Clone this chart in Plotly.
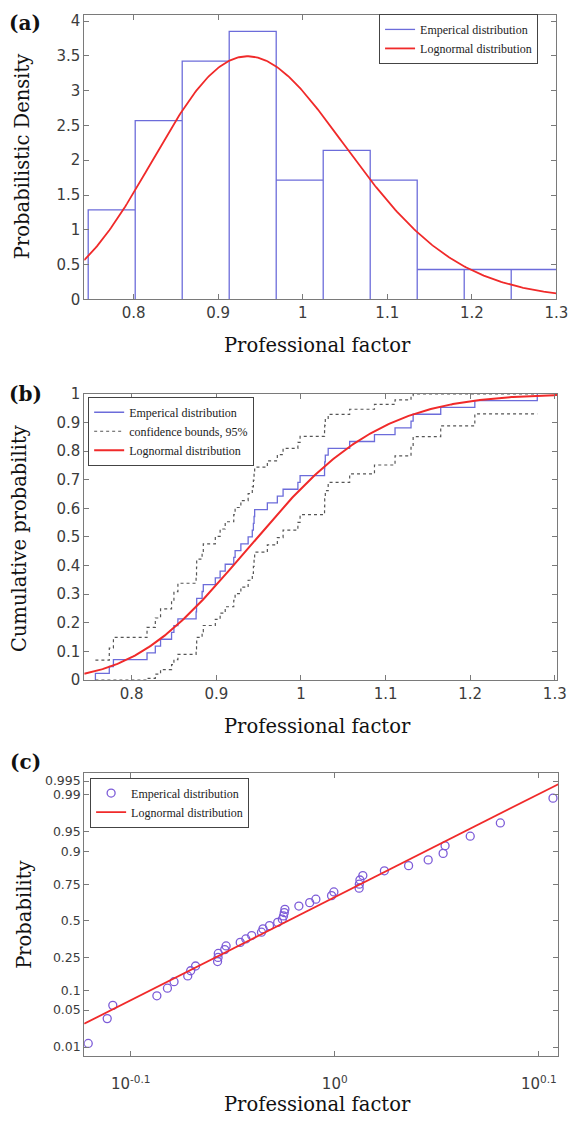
import math
from statistics import NormalDist

import numpy as np
import plotly.graph_objects as go

# ---------------------------------------------------------------------------
# Data: professional factor of the 42 test specimens (sorted)
# ---------------------------------------------------------------------------
professional_factor = [
    0.7571, 0.7735, 0.7784, 0.8181, 0.8279, 0.8341, 0.8471, 0.8499, 0.8546,
    0.8761, 0.8766, 0.8768, 0.8832, 0.8846, 0.8988, 0.9045, 0.9105, 0.9206, 0.9222,
    0.9290, 0.9376, 0.9425, 0.9438, 0.9446, 0.9453, 0.9603, 0.9721, 0.9789, 0.9964,
    0.9990, 1.0279, 1.0281, 1.0288, 1.0322, 1.0576, 1.0869, 1.1112, 1.1301, 1.1326,
    1.1652, 1.2055, 1.2793,
]

# histogram bin edges (10 equal bins)
hist_bin_edges = [0.7462, 0.8018, 0.8574, 0.9130, 0.9686, 1.0242,
                  1.0798, 1.1354, 1.1910, 1.2466, 1.3022]

# tick labels
factor_ticks = [0.8, 0.9, 1.0, 1.1, 1.2, 1.3]
factor_tick_text = ["0.8", "0.9", "1", "1.1", "1.2", "1.3"]
density_ticks = [0, 0.5, 1, 1.5, 2, 2.5, 3, 3.5, 4]
density_tick_text = ["0", "0.5", "1", "1.5", "2", "2.5", "3", "3.5", "4"]
cumprob_ticks = [0, 0.1, 0.2, 0.3, 0.4, 0.5, 0.6, 0.7, 0.8, 0.9, 1.0]
cumprob_tick_text = ["0", "0.1", "0.2", "0.3", "0.4", "0.5", "0.6", "0.7", "0.8", "0.9", "1"]
prob_ticks = [0.01, 0.05, 0.1, 0.25, 0.5, 0.75, 0.9, 0.95, 0.99, 0.995]
prob_tick_text = ["0.01", "0.05", "0.1", "0.25", "0.5", "0.75", "0.9", "0.95", "0.99", "0.995"]
log_ticks = [10 ** -0.1, 10 ** 0, 10 ** 0.1]
log_tick_text = ["10<sup>-0.1</sup>", "10<sup>0</sup>", "10<sup>0.1</sup>"]

# axis ranges
range_a = [0.7415, 1.300]
range_b = [0.7439, 1.303]
range_c = [0.7537, 1.287]

# ---------------------------------------------------------------------------
# Statistics
# ---------------------------------------------------------------------------
x = np.array(professional_factor)
n = len(x)
logx = np.log(x)
mu = logx.mean()
sigma = logx.std(ddof=1)
std_normal = NormalDist()


def logn_pdf(v):
    return np.exp(-(np.log(v) - mu) ** 2 / (2 * sigma ** 2)) / (v * sigma * math.sqrt(2 * math.pi))


def logn_cdf(v):
    return np.array([std_normal.cdf((math.log(t) - mu) / sigma) for t in v])


# histogram densities
counts, edges = np.histogram(x, bins=hist_bin_edges)
dens = counts / (n * np.diff(edges))
hx, hy = [], []
for i in range(len(counts)):
    hx += [edges[i], edges[i], edges[i + 1], edges[i + 1]]
    hy += [0, dens[i], dens[i], 0]

# empirical cdf with 95% Greenwood bounds
F = np.arange(1, n + 1) / n
ecdf_x = [x[0]] + list(x)
ecdf_y = [0.0] + list(F)
Fb = F[:-1]
half = 1.959964 * np.sqrt(Fb * (1 - Fb) / n)
lo = np.clip(Fb - half, 0, 1)
hi = np.clip(Fb + half, 0, 1)
bx = list(x[:-1]) + [x[-1]]
lo_y = list(lo) + [lo[-1]]
hi_y = list(hi) + [hi[-1]]

# probability plot positions
pp_z = [std_normal.inv_cdf((i - 0.5) / n) for i in range(1, n + 1)]

# ---------------------------------------------------------------------------
# Figure
# ---------------------------------------------------------------------------
W, H = 585, 1131
BLUE = "#6c6cda"
RED = "#f02a2a"
PURPLE = "#7d5cd8"
AX = "#7a7a7a"


def fx(p):
    return p / W


def fy(p):
    return 1 - p / H


fig = go.Figure()

# (a) histogram + fitted pdf
fig.add_trace(go.Scatter(x=hx, y=hy, mode="lines", line=dict(color=BLUE, width=1.3),
                         name="Emperical distribution", xaxis="x", yaxis="y", legend="legend"))
xa = np.linspace(range_a[0], range_a[1], 300)
fig.add_trace(go.Scatter(x=xa, y=logn_pdf(xa), mode="lines", line=dict(color=RED, width=1.8),
                         name="Lognormal distribution", xaxis="x", yaxis="y", legend="legend"))

# (b) cdf
fig.add_trace(go.Scatter(x=ecdf_x, y=ecdf_y, mode="lines", line=dict(color=BLUE, width=1.3, shape="hv"),
                         name="Emperical distribution", xaxis="x2", yaxis="y2", legend="legend2"))
fig.add_trace(go.Scatter(x=bx, y=hi_y, mode="lines", line=dict(color="#555555", width=1.2, dash="dot", shape="hv"),
                         name="confidence bounds, 95%", xaxis="x2", yaxis="y2", legend="legend2"))
fig.add_trace(go.Scatter(x=bx, y=lo_y, mode="lines", line=dict(color="#555555", width=1.2, dash="dot", shape="hv"),
                         name="confidence bounds, 95%", showlegend=False, xaxis="x2", yaxis="y2", legend="legend2"))
xb = np.linspace(range_b[0], range_b[1], 300)
fig.add_trace(go.Scatter(x=xb, y=logn_cdf(xb), mode="lines", line=dict(color=RED, width=2),
                         name="Lognormal distribution", xaxis="x2", yaxis="y2", legend="legend2"))

# (c) probability plot
fig.add_trace(go.Scatter(x=x, y=pp_z, mode="markers",
                         marker=dict(symbol="circle-open", size=8, color=PURPLE, line=dict(width=1.3)),
                         name="Emperical distribution", xaxis="x3", yaxis="y3", legend="legend3"))
xc = np.linspace(range_c[0], range_c[1], 100)
fig.add_trace(go.Scatter(x=xc, y=(np.log(xc) - mu) / sigma, mode="lines", line=dict(color=RED, width=1.8),
                         name="Lognormal distribution", xaxis="x3", yaxis="y3", legend="legend3"))

tickfont = dict(family="DejaVu Sans", size=15, color="#3c3c3c")
axis_style = dict(showline=True, linecolor=AX, linewidth=1, mirror="allticks", ticks="inside",
                  ticklen=5, tickcolor=AX, showgrid=False, zeroline=False)

legend_style = dict(bgcolor="white", bordercolor="#444444", borderwidth=1,
                    font=dict(family="Liberation Serif", size=12, color="#222222"),
                    xanchor="left", yanchor="top", xref="paper", yref="paper",
                    tracegroupgap=0, itemwidth=30)

prob_z = [std_normal.inv_cdf(p) for p in prob_ticks]

fig.update_layout(
    width=W, height=H, margin=dict(l=0, r=0, t=0, b=0),
    paper_bgcolor="white", plot_bgcolor="white",
    xaxis=dict(domain=[fx(86), fx(568)], range=range_a, anchor="y",
               tickvals=factor_ticks, ticktext=factor_tick_text, tickfont=tickfont, **axis_style),
    yaxis=dict(domain=[fy(295), fy(6)], range=[0, 4.09], anchor="x",
               tickvals=density_ticks, ticktext=density_tick_text, tickfont=tickfont, **axis_style),
    xaxis2=dict(domain=[fx(86), fx(569)], range=range_b, anchor="y2",
                tickvals=factor_ticks, ticktext=factor_tick_text, tickfont=tickfont, **axis_style),
    yaxis2=dict(domain=[fy(682), fy(391)], range=[0, 1], anchor="x2",
                tickvals=cumprob_ticks, ticktext=cumprob_tick_text, tickfont=tickfont, **axis_style),
    xaxis3=dict(domain=[fx(86), fx(570)], type="log", range=[math.log10(range_c[0]), math.log10(range_c[1])],
                anchor="y3", tickvals=log_ticks, ticktext=log_tick_text, ticklabelstandoff=14,
                tickfont=tickfont, **axis_style),
    yaxis3=dict(domain=[fy(1064), fy(776)], range=[-2.493, 2.730], anchor="x3",
                tickvals=prob_z, ticktext=prob_tick_text,
                tickfont=dict(family="DejaVu Sans", size=12.5, color="#3c3c3c"), **axis_style),
    legend=dict(x=fx(387), y=fy(5), **legend_style),
    legend2=dict(x=fx(90), y=fy(394), **legend_style),
    legend3=dict(x=fx(92), y=fy(781), **legend_style),
)

title_font = dict(family="DejaVu Serif", size=19.5, color="#111111")
label_font = dict(family="DejaVu Serif", size=20, color="#111111")
notes = [
    ("<b>(a)</b>", 26, 14, 0, label_font),
    ("<b>(b)</b>", 26, 391, 0, label_font),
    ("<b>(c)</b>", 26, 765, 0, label_font),
    ("Probabilistic Density", 23, 150, -90, title_font),
    ("Cumulative probability", 20, 538, -90, title_font),
    ("Probability", 25, 920, -90, title_font),
    ("Professional factor", 324, 342, 0, title_font),
    ("Professional factor", 324, 729, 0, title_font),
    ("Professional factor", 324, 1113, 0, title_font),
]
for text, px, py, ang, font in notes:
    fig.add_annotation(text=text, x=fx(px), y=fy(py), xref="paper", yref="paper",
                       xanchor="center", yanchor="middle", showarrow=False,
                       textangle=ang, font=font)

fig.write_html("out.html")
